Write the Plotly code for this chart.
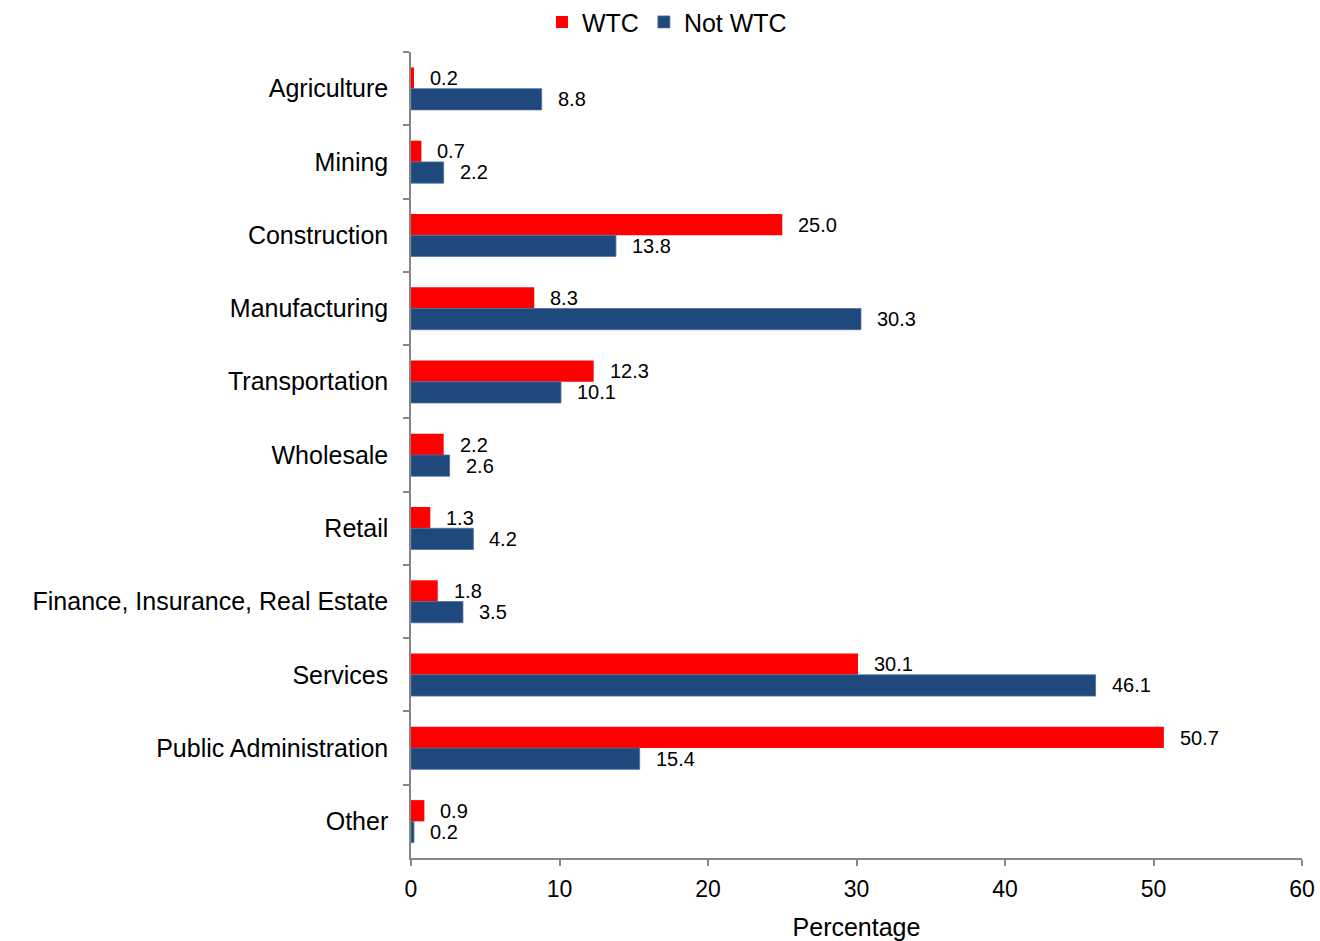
import plotly.graph_objects as go

categories = ["Agriculture", "Mining", "Construction", "Manufacturing", "Transportation",
              "Wholesale", "Retail", "Finance, Insurance, Real Estate", "Services",
              "Public Administration", "Other"]
wtc = [0.2, 0.7, 25.0, 8.3, 12.3, 2.2, 1.3, 1.8, 30.1, 50.7, 0.9]
not_wtc = [8.8, 2.2, 13.8, 30.3, 10.1, 2.6, 4.2, 3.5, 46.1, 15.4, 0.2]
x_ticks = [0, 10, 20, 30, 40, 50, 60]

RED = "#FF0000"
BLUE = "#1F497D"
AXIS = "#868686"
FONT = "Liberation Sans, Arial, sans-serif"

fig = go.Figure()
fig.add_trace(go.Bar(y=categories, x=wtc, orientation="h", name="WTC",
                     marker=dict(color=RED, line=dict(width=0))))
fig.add_trace(go.Bar(y=categories, x=not_wtc, orientation="h", name="Not WTC",
                     marker=dict(color=BLUE, line=dict(color="#4F6F9F", width=0.8))))

# value labels, placed a little right of each bar end
for vals, dy in ((wtc, 10.5), (not_wtc, -10.5)):
    for cat, v in zip(categories, vals):
        fig.add_annotation(x=v, y=cat, text=f"{v:.1f}", showarrow=False,
                           xanchor="left", yanchor="middle", xshift=14, yshift=dy,
                           font=dict(size=20, color="#000000", family=FONT))

fig.update_layout(
    width=1320, height=941,
    margin=dict(l=411, r=18, t=52, b=83, autoexpand=False),
    barmode="group", bargap=0.42, bargroupgap=0,
    plot_bgcolor="white", paper_bgcolor="white",
    font=dict(family=FONT, color="#000000"),
    legend=dict(orientation="h", x=0.147, xanchor="left", y=1.037, yanchor="middle",
                font=dict(size=25), traceorder="normal", itemwidth=30,
                bgcolor="rgba(0,0,0,0)"),
)
fig.update_yaxes(
    autorange=False, range=[10.5, -0.5], type="category",
    showline=True, linecolor=AXIS, linewidth=1.5, showgrid=False,
    ticks="outside", ticklen=6, tickcolor=AXIS, tickwidth=1.5,
    tickson="boundaries", ticklabelstandoff=16,
    tickfont=dict(size=25),
)
fig.update_xaxes(
    range=[0, 60], tickvals=x_ticks, showline=True, linecolor=AXIS, linewidth=1.5,
    showgrid=False, zeroline=False, ticks="outside", ticklen=6, tickcolor=AXIS,
    tickwidth=1.5, tickfont=dict(size=23), ticklabelstandoff=4,
    ticklabeloverflow="allow",
    title=dict(text="Percentage", font=dict(size=25), standoff=18),
)

# drop the default body margin so the figure fills the window exactly
fig.write_html("out.html", config={"displayModeBar": False},
               post_script="document.body.style.margin='0px';")
